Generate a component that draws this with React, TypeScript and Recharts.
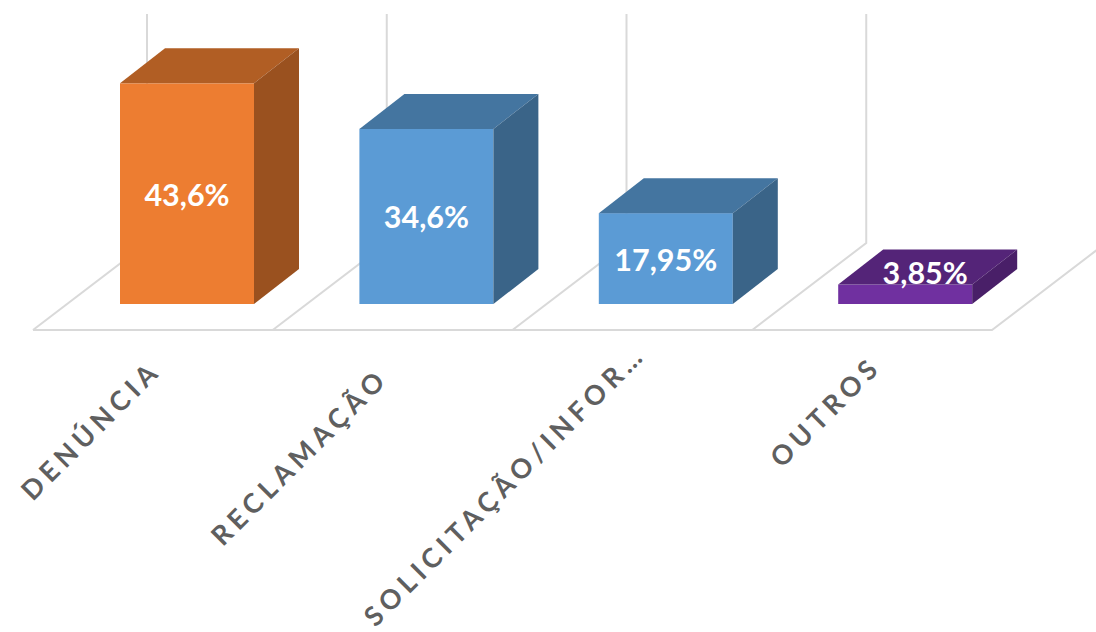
import { Bar, BarChart, LabelList, XAxis, YAxis } from "recharts";

const categories = ["DENÚNCIA", "RECLAMAÇÃO", "SOLICITAÇÃO/INFOR…", "OUTROS"];
const shares = [43.6, 34.6, 17.95, 3.85];
const shareLabels = ["43,6%", "34,6%", "17,95%", "3,85%"];

const frontColors = ["#ED7D31", "#5B9BD5", "#5B9BD5", "#7030A0"];
const topColors = ["#B15E24", "#4475A0", "#4475A0", "#542478"];
const sideColors = ["#9A511F", "#3A6488", "#3A6488", "#491F68"];

const data = categories.map((name, i) => ({ name, share: shares[i] }));

const DEPTH_X = 45;
const DEPTH_Y = 35;
const GRID = "#D9D9D9";
const FONT = "Lato, 'Open Sans', sans-serif";

// floor and back wall lines
const floorLeft = 33;
const floorY = 330;
const bandWidth = 239.75;
const backDx = 114;
const backDy = 87;

function Floor() {
  const lines = [0, 1, 2, 3].map((i) => {
    const x = floorLeft + i * bandWidth;
    return `M${x} ${floorY}L${x + backDx} ${floorY - backDy}L${x + backDx} 14`;
  });
  const right = floorLeft + 4 * bandWidth;
  return (
    <g>
      {lines.map((d) => (
        <path key={d} d={d} fill="none" stroke={GRID} strokeWidth={2} />
      ))}
      <path
        d={`M${floorLeft} ${floorY}L${right} ${floorY}L${right + backDx} ${floorY - backDy}`}
        fill="none"
        stroke={GRID}
        strokeWidth={2}
      />
    </g>
  );
}

function Box(props: any) {
  const { x, y, width, height, index } = props;
  const r = x + width;
  const b = y + height;
  return (
    <g>
      <rect x={x} y={y} width={width} height={height} fill={frontColors[index]} />
      <path
        d={`M${x} ${y}L${x + DEPTH_X} ${y - DEPTH_Y}L${r + DEPTH_X} ${y - DEPTH_Y}L${r} ${y}Z`}
        fill={topColors[index]}
      />
      <path
        d={`M${r} ${y}L${r + DEPTH_X} ${y - DEPTH_Y}L${r + DEPTH_X} ${b - DEPTH_Y}L${r} ${b}Z`}
        fill={sideColors[index]}
      />
    </g>
  );
}

function BoxLabel(props: any) {
  const { x, y, width, height, index } = props;
  // short bar: label sits over the top face
  const small = height < 30;
  const cx = x + width / 2 + (small ? 20 : 0);
  const cy = y + height / 2 + (small ? -22 : 0);
  return (
    <text
      x={cx}
      y={cy}
      textAnchor="middle"
      dominantBaseline="central"
      fill="#FFFFFF"
      fontFamily={FONT}
      fontWeight={700}
      fontSize={30.5}
    >
      {shareLabels[index]}
    </text>
  );
}

const tickNudge = [
  [-24, 60],
  [-36, 68],
  [-18, 44],
  [-22, 56],
];

function AngledTick(props: any) {
  const { x, y, payload, index } = props;
  const [dx, dy] = tickNudge[index];
  return (
    <text
      transform={`translate(${x + dx} ${y + dy}) rotate(-45)`}
      textAnchor="end"
      fill="#5F5F5F"
      fontFamily={FONT}
      fontWeight={700}
      fontSize={27}
      letterSpacing={5.2}
    >
      {payload.value}
    </text>
  );
}

export default function App() {
  return (
    <div style={{ position: "absolute", left: 0, top: 0, width: 1096, height: 632, overflow: "hidden" }}>
      <BarChart
        width={1096}
        height={632}
        data={data}
        margin={{ top: 14, right: 71.4, bottom: 0, left: 67 }}
        barSize={134}
      >
        <Floor />
        <XAxis
          dataKey="name"
          height={328}
          interval={0}
          axisLine={false}
          tickLine={false}
          tick={<AngledTick />}
        />
        <YAxis hide domain={[0, 57.3]} />
        <Bar dataKey="share" shape={<Box />} isAnimationActive={false}>
          <LabelList dataKey="share" content={<BoxLabel />} />
        </Bar>
      </BarChart>
    </div>
  );
}
